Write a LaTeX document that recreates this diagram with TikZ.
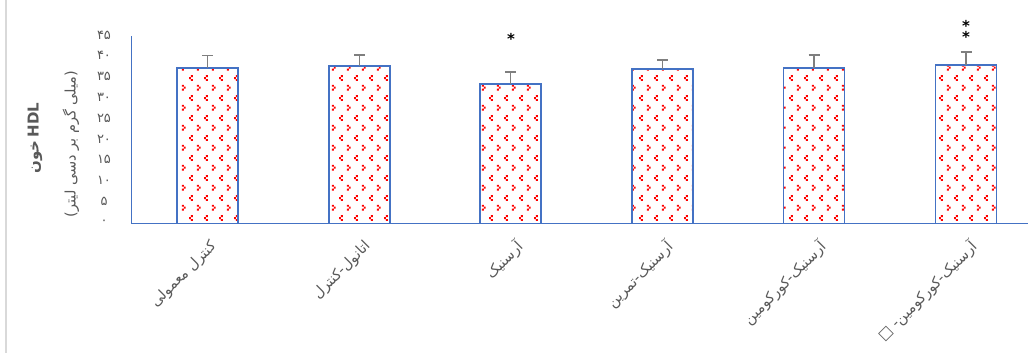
\documentclass[tikz,border=0pt]{standalone}
\usepackage{fontspec}
\setmainfont{DejaVu Sans}
\newfontfamily\arabicfont[Script=Arabic]{DejaVu Sans}
\TeXXeTstate=1
\usetikzlibrary{patterns}
\definecolor{axblue}{HTML}{4472C4}
\definecolor{txtgray}{HTML}{595959}
\definecolor{errgray}{HTML}{7F7F7F}
\definecolor{framegray}{HTML}{D9D9D9}
\pgfdeclarepatternformonly{reddots}{\pgfqpoint{0pt}{0pt}}{\pgfqpoint{15pt}{20pt}}{\pgfqpoint{15pt}{20pt}}{%
  \pgfpathrectangle{\pgfqpoint{2pt}{6.6pt}}{\pgfqpoint{2pt}{2pt}}%
  \pgfpathrectangle{\pgfqpoint{4pt}{4.6pt}}{\pgfqpoint{2pt}{2pt}}%
  \pgfpathrectangle{\pgfqpoint{2pt}{2.6pt}}{\pgfqpoint{2pt}{2pt}}%
  \pgfpathrectangle{\pgfqpoint{11.5pt}{16.6pt}}{\pgfqpoint{2pt}{2pt}}%
  \pgfpathrectangle{\pgfqpoint{9.5pt}{14.6pt}}{\pgfqpoint{2pt}{2pt}}%
  \pgfpathrectangle{\pgfqpoint{11.5pt}{12.6pt}}{\pgfqpoint{2pt}{2pt}}%
  \pgfusepath{fill}}
\tikzset{
  barframe/.style={draw=axblue, line width=1.8pt},
  errbar/.style={draw=errgray, line width=1.8pt},
  axisline/.style={draw=axblue, line width=1.6pt},
  ylab/.style={text=txtgray, font=\arabicfont\fontsize{13}{15}\selectfont, inner sep=0pt},
  xlab/.style={text=txtgray, font=\arabicfont\fontsize{14.5}{16}\selectfont, inner sep=0pt, rotate=45, anchor=north east},
  startext/.style={text=black, font=\bfseries\fontsize{15}{15}\selectfont, inner sep=0pt},
}
\begin{document}
\begin{tikzpicture}[x=1pt, y=-1pt]
\useasboundingbox (0,0) rectangle (1028,353);
\fill[white] (0,0) rectangle (1028,353);
\draw[framegray, line width=1.5pt] (6,0) -- (6,353);
% bars
\foreach \cx/\tp/\er [count=\i] in {207.5/67.7/55.5, 359.5/66/55, 510.5/83.7/72.3, 662.5/69/60, 814/68/55, 966/65/52.3}{
  \fill[white] ({\cx-30.5},223.5) rectangle ({\cx+30.5},\tp);
  \fill[pattern=reddots, pattern color=red] ({\cx-30.5},223.5) rectangle ({\cx+30.5},\tp);
  \draw[barframe] ({\cx-30.5},223.5) rectangle ({\cx+30.5},\tp);
  \draw[errbar] (\cx,\tp) -- (\cx,\er);
  \draw[errbar] ({\cx-5.5},\er) -- ({\cx+5.5},\er);
}
% axes
\draw[axisline] (131.5,36.5) -- (131.5,223.5);
\draw[axisline] (131.5,223.5) -- (1028,223.5);
% y tick labels
\node[ylab] (y0) at (104,222) {۰};
\node[ylab] (y5) at (104,201.2) {۵};
\node[ylab] (y10) at (104,180.4) {۱۰};
\node[ylab] (y15) at (104,159.7) {۱۵};
\node[ylab] (y20) at (104,138.9) {۲۰};
\node[ylab] (y25) at (104,118.1) {۲۵};
\node[ylab] (y30) at (104,97.3) {۳۰};
\node[ylab] (y35) at (104,76.6) {۳۵};
\node[ylab] (y40) at (104,55.8) {۴۰};
\node[ylab] (y45) at (104,35) {۴۵};
% axis titles
\node[rotate=90, inner sep=0pt, text=txtgray] (ytitle) at (35,138) {{\arabicfont\bfseries\fontsize{15}{17}\selectfont\beginR خون\endR}\ {\bfseries\fontsize{15}{17}\selectfont HDL}};
\node[rotate=90, inner sep=0pt, text=txtgray, font=\arabicfont\fontsize{14.5}{16}\selectfont] (ysub) at (71,144) {\beginR (میلی گرم بر دسی لیتر)\endR};
% x labels
\node[xlab] (l1) at (209,239) {\beginR کنترل معمولی\endR};
\node[xlab] (l2) at (363,239) {\beginR اتانول-کنترل\endR};
\node[xlab] (l3) at (514,238) {\beginR آرسنیک\endR};
\node[xlab] (l4) at (664,238) {\beginR آرسنیک-تمرین\endR};
\node[xlab] (l5) at (817,238) {\beginR آرسنیک-کورکومین\endR};
\node[xlab] (l6) at (968,238) {\beginR آرسنیک-کورکومین- □\endR};
% significance stars
\node[startext] (s3) at (511,39) {*};
\node[startext] (s6a) at (966,26) {*};
\node[startext] (s6b) at (966,37) {*};
\end{tikzpicture}
\end{document}
